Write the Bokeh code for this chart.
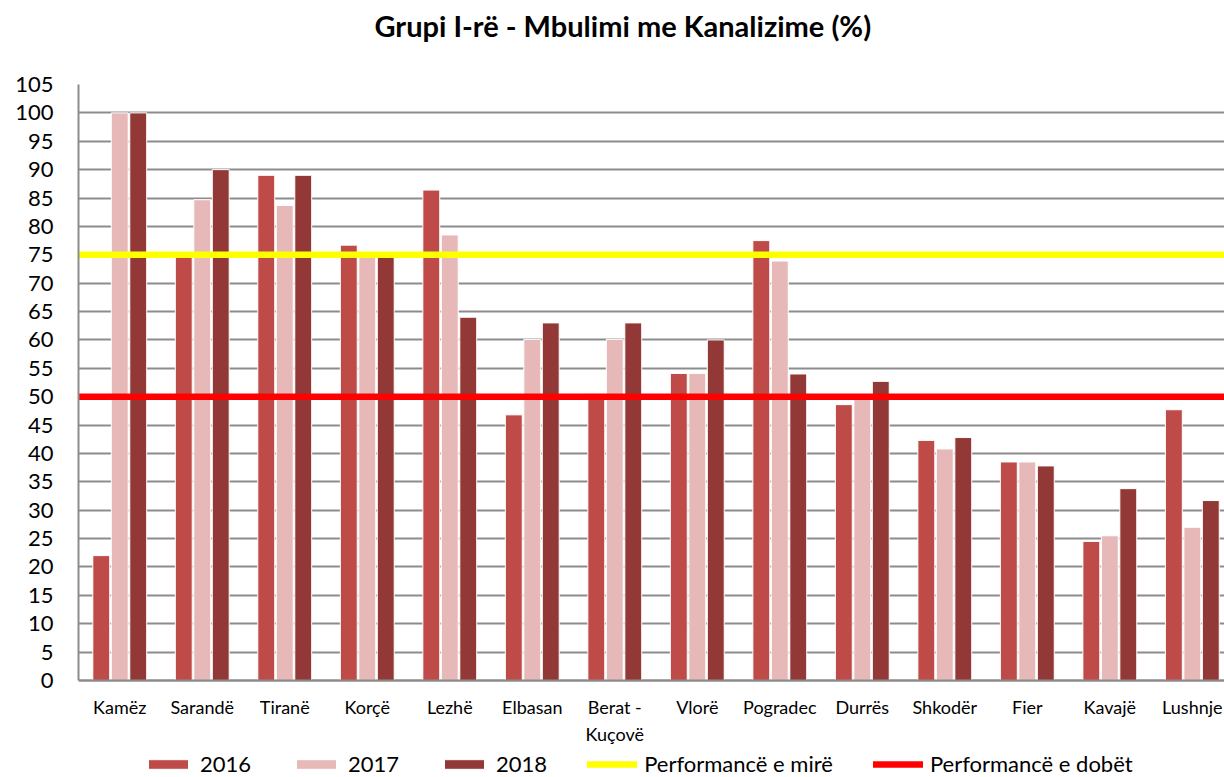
from bokeh.plotting import figure
from bokeh.models import ColumnDataSource, Range1d, FixedTicker, Legend, LegendItem
from bokeh.transform import dodge
from bokeh.embed import file_html
from bokeh.resources import INLINE

# ---- data ----
categories = ["Kamëz", "Sarandë", "Tiranë", "Korçë", "Lezhë", "Elbasan", "Berat -\nKuçovë",
              "Vlorë", "Pogradec", "Durrës", "Shkodër", "Fier", "Kavajë", "Lushnje"]
v2016 = [22, 75, 89, 76.7, 86.4, 46.8, 50.5, 54.1, 77.5, 48.6, 42.3, 38.5, 24.5, 47.7]
v2017 = [100, 84.7, 83.7, 75, 78.5, 60.1, 60.1, 54.1, 73.9, 50, 40.8, 38.5, 25.5, 27]
v2018 = [100, 90, 89, 75, 64, 63, 63, 60, 54, 52.7, 42.8, 37.8, 33.8, 31.7]
series_names = ["2016", "2017", "2018"]
y_ticks = list(range(0, 106, 5))
good_level = 75
poor_level = 50
good_label = "Performancë e mirë"
poor_label = "Performancë e dobët"
title_text = "Grupi I-rë - Mbulimi me Kanalizime (%)"

colors = ["#BE4B48", "#E6B9B8", "#923836"]
FONT = "Lato"

n = len(categories)
idx = list(range(n))
src = ColumnDataSource(dict(x=idx, v2016=v2016, v2017=v2017, v2018=v2018))

# frame extends below zero so that the category labels and the legend fit inside it
p = figure(frame_width=1146, frame_height=693, output_backend="svg", toolbar_location=None,
           x_range=Range1d(-0.5, 13.39), y_range=Range1d(-17.09, 105),
           min_border_left=78, min_border_right=0, min_border_top=84, min_border_bottom=0)

# title: a blank second line keeps the text away from the frame
p.title.text = title_text + "\n "
p.title.text_font = FONT
p.title.text_font_size = "29px"
p.title.text_font_style = "bold"
p.title.text_line_height = 1.2
p.title.align = "left"
p.title.vertical_align = "bottom"
p.title.offset = 296
p.title.standoff = 0
p.title.text_color = "#000000"

p.outline_line_color = None
p.background_fill_color = "white"
p.border_fill_color = "white"

# grid
p.xgrid.grid_line_color = None
p.ygrid.grid_line_color = "#8c8c8c"
p.ygrid.grid_line_width = 2
p.ygrid.ticker = FixedTicker(ticks=y_ticks)

# y axis
p.yaxis.ticker = FixedTicker(ticks=y_ticks)
p.yaxis.bounds = (y_ticks[0], y_ticks[-1])
p.yaxis.major_tick_line_color = None
p.yaxis.minor_tick_line_color = None
p.yaxis.major_tick_out = 0
p.yaxis.major_tick_in = 0
p.yaxis.axis_line_color = "#8c8c8c"
p.yaxis.axis_line_width = 2
p.yaxis.major_label_text_font = FONT
p.yaxis.major_label_text_font_size = "22px"
p.yaxis.major_label_text_color = "#000000"
p.yaxis.major_label_standoff = 25

# x axis, fixed at y = 0
p.xaxis.fixed_location = y_ticks[0]
p.xaxis.ticker = FixedTicker(ticks=idx)
p.xaxis.major_label_overrides = {i: c for i, c in enumerate(categories)}
p.xaxis.major_tick_line_color = None
p.xaxis.minor_tick_line_color = None
p.xaxis.major_tick_out = 0
p.xaxis.major_tick_in = 0
p.xaxis.axis_line_color = "#8c8c8c"
p.xaxis.axis_line_width = 2
p.xaxis.major_label_text_font = FONT
p.xaxis.major_label_text_font_size = "18px"
p.xaxis.major_label_text_color = "#000000"
p.xaxis.major_label_standoff = 16

offsets = [-0.224, 0.0, 0.224]
bar_renderers = []
for name, col, off, c in zip(series_names, ["v2016", "v2017", "v2018"], offsets, colors):
    r = p.vbar(x=dodge("x", off, range=p.x_range), top=col, width=0.205, source=src,
               fill_color=c, line_color="white", line_width=1)
    bar_renderers.append(r)

line_x = [-0.5, n - 0.5]
r_good = p.line(x=line_x, y=[good_level, good_level], line_color="#FFFF00", line_width=6.5,
                line_cap="round")
r_poor = p.line(x=line_x, y=[poor_level, poor_level], line_color="#FF0000", line_width=6.5,
                line_cap="round")

items = [LegendItem(label=s, renderers=[r]) for s, r in zip(series_names, bar_renderers)]
items += [LegendItem(label=good_label, renderers=[r_good]),
          LegendItem(label=poor_label, renderers=[r_poor])]
legend = Legend(items=items, orientation="horizontal", location=(65, 0),
                label_text_font=FONT, label_text_font_size="22px", label_text_color="#000000",
                glyph_width=50, glyph_height=12, label_standoff=7, spacing=40,
                padding=0, margin=0, border_line_color=None, background_fill_alpha=0)
p.add_layout(legend, "center")

open("out.html", "w").write(file_html(p, INLINE))
